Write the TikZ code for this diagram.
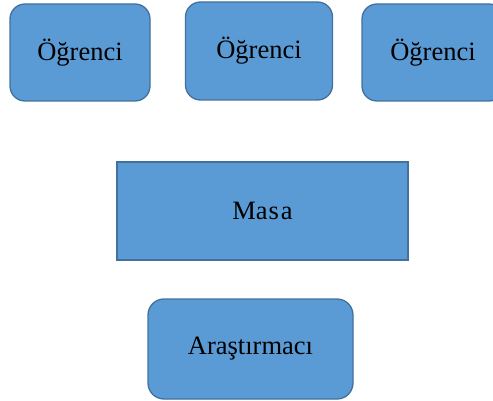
\documentclass[tikz,border=0pt]{standalone}
\usepackage{fontspec}
\setmainfont{Liberation Serif}
\definecolor{boxfill}{HTML}{5B9BD5}
\definecolor{boxline}{HTML}{41719C}
\begin{document}
\begin{tikzpicture}[x=1pt,y=-1pt,
  box/.style={draw=boxline, fill=boxfill, line width=1.3pt, inner sep=0pt,
    font=\fontsize{26.5}{30}\selectfont, text=black},
  rbox/.style={box, rounded corners=15pt}]
\useasboundingbox (0,0) rectangle (493,401);
\clip (0,0) rectangle (493,401);
\node[rbox, minimum width=140pt, minimum height=97pt] (s1) at (80,52.5) {Öğrenci};
\node[rbox, minimum width=147pt, minimum height=98pt] (s2) at (259,51) {Öğrenci};
\node[rbox, minimum width=142pt, minimum height=97pt] (s3) at (433,52.5) {Öğrenci};
\node[box, minimum width=291pt, minimum height=98pt] (m) at (262.5,211) {Ma\kern1pt s\kern2pt a};
\node[rbox, minimum width=205pt, minimum height=100pt, rounded corners=16pt] (a) at (250.5,349) {Araştırmacı};
\end{tikzpicture}
\end{document}
